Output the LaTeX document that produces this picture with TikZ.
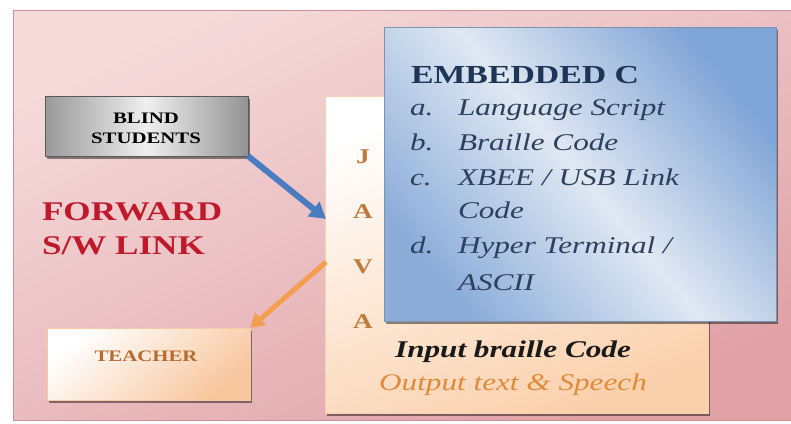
\documentclass[tikz,border=0pt]{standalone}
\usepackage{fontspec}
\setmainfont[FakeStretch=1.3]{Liberation Serif}
\usetikzlibrary{arrows.meta,shadows}
\definecolor{pinkL}{HTML}{F5DADA}
\definecolor{pinkD}{HTML}{E0A2A7}
\definecolor{pinkB}{HTML}{C99297}
\definecolor{peachD}{HTML}{FAD0AC}
\definecolor{peachE}{HTML}{F5B37C}
\definecolor{blueL}{HTML}{E0E8F2}
\definecolor{blueD}{HTML}{7FA4D6}
\definecolor{blueB}{HTML}{7E93B0}
\definecolor{arrB}{HTML}{4A7DC0}
\definecolor{arrO}{HTML}{F2A050}
\definecolor{fwred}{HTML}{BE1A2C}
\definecolor{javac}{HTML}{BF7A3C}
\definecolor{teachc}{HTML}{B56A30}
\definecolor{navy}{HTML}{1E3557}
\definecolor{slate}{HTML}{2D405E}
\definecolor{outc}{HTML}{E08A3A}
\newcommand\myfs[2]{\fontsize{#1}{#2}\selectfont}
\tikzset{
  box/.style={inner sep=0pt, outer sep=0pt, anchor=north west},
  shad/.style={drop shadow={shadow xshift=2pt, shadow yshift=-3pt, fill=black, opacity=0.45}},
  txt/.style={inner sep=0pt, outer sep=0pt},
  barrow/.style={draw=arrB, line width=6pt, -{Triangle[length=16pt,width=18pt]}},
  oarrow/.style={draw=arrO, line width=5pt, -{Triangle[length=14pt,width=16pt]}},
}
\begin{document}
\begin{tikzpicture}[x=1pt,y=-1pt]
\useasboundingbox (0,0) rectangle (791,423);
\fill[white] (0,0) rectangle (791,423);
% outer panel
\node[box, draw=pinkB, line width=0.8pt, top color=pinkL, bottom color=pinkD, shading angle=25,
      minimum width=780pt, minimum height=410pt] (panel) at (13,10) {};
% JAVA box
\node[box, shad, draw=peachE!60, line width=0.6pt, top color=white, bottom color=peachD, shading angle=20,
      minimum width=383pt, minimum height=317pt] (java) at (325,96) {};
% blue box
\node[box, shad, draw=blueB, line width=0.8pt, top color=blueD, bottom color=blueD!90, middle color=blueL, shading angle=-50,
      minimum width=392pt, minimum height=294pt] (emb) at (384,27) {};
% blind students
\node[box, shad, draw=gray!70!black, line width=0.8pt, left color=gray!80, right color=gray!85, middle color=gray!12,
      minimum width=203pt, minimum height=60pt] (blind) at (45,96) {};
\node[txt, anchor=base, font=\myfs{16}{20}\bfseries] (blind1) at (146,123) {BLIND};
\node[txt, anchor=base, font=\myfs{16}{20}\bfseries] (blind2) at (146,143) {STUDENTS};
% teacher
\node[box, shad, draw=peachE!70, line width=0.6pt, top color=white, bottom color=peachE!75, shading angle=40,
      minimum width=203pt, minimum height=72pt] (teacher) at (47,328) {};
\node[txt, anchor=base, font=\myfs{16}{20}\bfseries, text=teachc] (teachert) at (146,361) {TEACHER};
% arrows
\coordinate (btip) at (326,219);
\coordinate (otail) at (326,262);
\draw[barrow] (blind.south east) -- (btip);
\draw[oarrow] (otail) -- (teacher.north east);
% forward text
\node[txt, anchor=base west, font=\myfs{27}{34}\bfseries, text=fwred] (fw1) at (42,220) {FORWARD};
\node[txt, anchor=base west, font=\myfs{27}{34}\bfseries, text=fwred] (fw2) at (42,254) {S/W LINK};
% JAVA letters
\node[txt, anchor=base, font=\myfs{21}{24}\bfseries, text=javac] (j1) at (363,163) {J};
\node[txt, anchor=base, font=\myfs{21}{24}\bfseries, text=javac] (j2) at (363,218) {A};
\node[txt, anchor=base, font=\myfs{21}{24}\bfseries, text=javac] (j3) at (363,273) {V};
\node[txt, anchor=base, font=\myfs{21}{24}\bfseries, text=javac] (j4) at (363,328) {A};
% input / output
\node[txt, anchor=base, font=\myfs{24}{28}\bfseries\itshape, text=black!90] (inp) at (513,357) {Input braille Code};
\node[txt, anchor=base, font=\myfs{24}{28}\itshape, text=outc] (outp) at (513,390) {Output text \& Speech};
% embedded C
\node[txt, anchor=base west, font=\myfs{26}{30}\bfseries, text=navy] (embt) at (411,83) {EMBEDDED C};
\tikzset{lab/.style={txt, anchor=base west, font=\myfs{24}{30}\itshape, text=slate}}
\node[lab] (la) at (410,115) {a.};
\node[lab] (ta) at (458,115) {Language Script};
\node[lab] (lb) at (410,150) {b.};
\node[lab] (tb) at (458,150) {Braille Code};
\node[lab] (lc) at (410,185) {c.};
\node[lab] (tc) at (458,185) {XBEE / USB Link};
\node[lab] (tc2) at (458,218) {Code};
\node[lab] (ld) at (410,253) {d.};
\node[lab] (td) at (458,253) {Hyper Terminal /};
\node[lab] (td2) at (458,290) {ASCII};
\end{tikzpicture}
\end{document}
